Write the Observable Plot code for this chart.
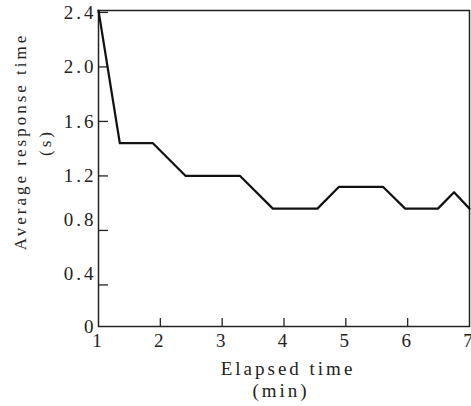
<!DOCTYPE html>
<html>
<head>
<meta charset="utf-8">
<script src="https://cdn.jsdelivr.net/npm/d3@7"></script>
<script src="https://cdn.jsdelivr.net/npm/@observablehq/plot@0.6"></script>
<style>
  html, body { margin: 0; padding: 0; background: #fff; }
  #chart svg, #chart svg text { font-family: "Liberation Serif", "DejaVu Serif", serif !important; }
</style>
</head>
<body>
<div id="chart"></div>
<script>
// Data
const times = [1, 1.345, 1.88, 2.41, 3.29, 3.82, 4.54, 4.89, 5.6, 5.96, 6.49, 6.75, 7];
const responses = [2.42, 1.44, 1.44, 1.2, 1.2, 0.96, 0.96, 1.12, 1.12, 0.96, 0.96, 1.08, 0.96];

const xTicks = [1, 2, 3, 4, 5, 6, 7];
const xTickMarks = [2, 3, 4, 5, 6];
const yTickMarks = [0.4, 0.8, 1.2, 1.6, 2.0, 2.4];
const yLabelsMain = [0, 1.2, 1.6, 2.0, 2.4];
const yLabelsRaised = [0.4, 0.8];

const xTitle = "Elapsed time";
const xUnit = "(min)";
const yTitle = "Average response time";
const yUnit = "(s)";

const data = times.map((t, i) => ({t, r: responses[i]}));
const fmt = d => d === 0 ? "0" : d.toFixed(1);
const ink = "#222";
const serif = "Liberation Serif";

const chart = Plot.plot({
  width: 471,
  height: 406,
  marginLeft: 98,
  marginRight: 2,
  marginTop: 10,
  marginBottom: 80,
  style: {fontFamily: "'Liberation Serif', serif", letterSpacing: "3px", color: ink, background: "#fff"},
  x: {domain: [1, 7]},
  y: {domain: [0.095, 2.414], clamp: true},
  marks: [
    Plot.frame({stroke: ink, strokeWidth: 1.5}),
    Plot.axisY(yTickMarks, {tickSize: 10, dx: 10, text: null, label: null, stroke: ink, strokeWidth: 1.3}),
    Plot.axisX(xTickMarks, {tickSize: 8, dy: -8, text: null, label: null, stroke: ink, strokeWidth: 1.3}),
    Plot.axisY(yLabelsMain, {tickSize: 0, tickPadding: 2, tickFormat: fmt, label: null, fontSize: 19, fontFamily: serif}),
    Plot.axisY(yLabelsRaised, {tickSize: 0, tickPadding: 2, tickFormat: fmt, label: null, fontSize: 19, fontFamily: serif, dy: -11}),
    Plot.axisX(xTicks, {tickSize: 0, tickPadding: 7, tickFormat: d => String(d), label: null, fontSize: 19, fontFamily: serif}),
    Plot.line(data, {x: "t", y: "r", stroke: "#111", strokeWidth: 2.2}),
    Plot.text([yTitle], {frameAnchor: "left", textAnchor: "middle", lineAnchor: "middle", rotate: -90, dx: -78, dy: -27, fontSize: 17, fontFamily: serif, fill: ink}),
    Plot.text([yUnit], {frameAnchor: "left", textAnchor: "middle", lineAnchor: "middle", rotate: -90, dx: -53, dy: -26, fontSize: 17, fontFamily: serif, fill: ink}),
    Plot.text([xTitle], {frameAnchor: "bottom", textAnchor: "middle", lineAnchor: "middle", dx: 4, dy: 42, fontSize: 19, fontFamily: serif, fill: ink}),
    Plot.text([xUnit], {frameAnchor: "bottom", textAnchor: "middle", lineAnchor: "middle", dx: -3, dy: 64, fontSize: 19, fontFamily: serif, fill: ink})
  ]
});
document.getElementById("chart").appendChild(chart);
</script>
</body>
</html>
